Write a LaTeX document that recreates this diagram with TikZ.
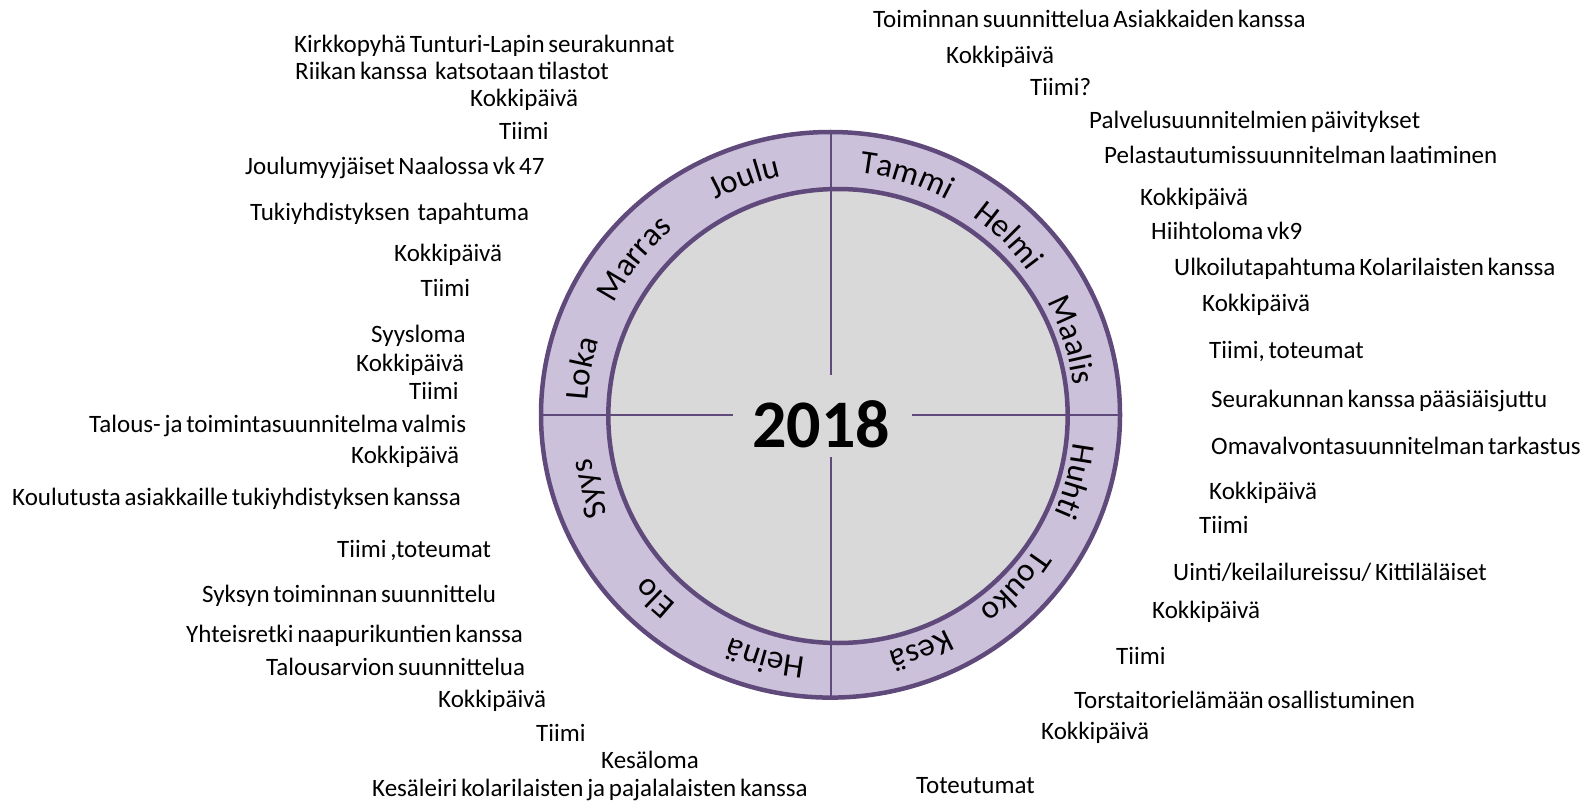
\documentclass[tikz,border=0pt]{standalone}
\usepackage{fontspec}
\setmainfont{Carlito}
\usetikzlibrary{decorations.text}
\definecolor{ringfill}{HTML}{CCC1DA}
\definecolor{ringline}{HTML}{604A7B}
\definecolor{innerfill}{HTML}{D9D9D9}
\newcommand{\mfont}{\fontsize{33}{36}\selectfont}
\newcommand{\sfnt}{\fontsize{25}{28}\selectfont\spaceskip=0.15em plus 0.05em minus 0.05em\relax}
\newcommand{\monthlabel}[2]{%
  \path[decorate, decoration={text along path, text={|\mfont|#2}, text align=center}]
    ([shift={({#1+40}:244)}]C) arc[start angle={#1+40}, end angle={#1-40}, radius=244];}
\tikzset{
  lbl/.style={anchor=base west, inner sep=0pt, font=\sfnt, text=black},
  divider/.style={draw=ringline, line width=2.5pt},
}
\begin{document}
\begin{tikzpicture}[x=1pt, y=1pt]
\useasboundingbox (0,0) rectangle (1585,-802);
\fill[white] (0,0) rectangle (1585,-802);
\coordinate (C) at (831,-415);
% ring
\filldraw[fill=ringfill, draw=ringline, line width=4.5pt] (830.5,-414.8) ellipse[x radius=289.5, y radius=282.8];
\filldraw[fill=innerfill, draw=ringline, line width=4.5pt] (838,-416) ellipse[x radius=229.7, y radius=227];
% dividers
\coordinate (vt1) at (831,-132);
\coordinate (vt2) at (831,-375);
\coordinate (vb1) at (831,-457);
\coordinate (vb2) at (831,-697.5);
\coordinate (hl1) at (541,-415);
\coordinate (hl2) at (732.7,-415);
\coordinate (hr1) at (912,-415);
\coordinate (hr2) at (1120,-415);
\draw[divider] (vt1) -- (vt2);
\draw[divider] (vb1) -- (vb2);
\draw[divider] (hl1) -- (hl2);
\draw[divider] (hr1) -- (hr2);
% year
\node[anchor=base, inner sep=0pt, font=\fontsize{68}{70}\selectfont\bfseries] (year) at (821,-447) {2018};
% months
\monthlabel{110}{Joulu}
\monthlabel{72.5}{Tammi}
\monthlabel{45.3}{Helmi}
\monthlabel{17.3}{Maalis}
\monthlabel{-15.2}{Huhti}
\monthlabel{-43}{Touko}
\monthlabel{-69}{Kesä}
\monthlabel{-105}{Heinä}
\monthlabel{-134}{Elo}
\monthlabel{-163}{Syys}
\monthlabel{169.4}{Loka}
\monthlabel{141.5}{Marras}
% right side
\node[lbl] (r1) at (873,-28) {Toiminnan suunnittelua Asiakkaiden kanssa};
\node[lbl] (r2) at (946,-63.6) {Kokkipäivä};
\node[lbl] (r3) at (1030,-96) {Tiimi?};
\node[lbl] (r4) at (1089,-129) {Palvelusuunnitelmien päivitykset};
\node[lbl] (r5) at (1104,-163.5) {Pelastautumissuunnitelman laatiminen};
\node[lbl] (r6) at (1140,-205.5) {Kokkipäivä};
\node[lbl] (r7) at (1151,-240) {Hiihtoloma vk9};
\node[lbl] (r8) at (1174,-275.5) {Ulkoilutapahtuma Kolarilaisten kanssa};
\node[lbl] (r9) at (1202,-311.5) {Kokkipäivä};
\node[lbl] (r10) at (1209,-358) {Tiimi, toteumat};
\node[lbl] (r11) at (1211,-407) {Seurakunnan kanssa pääsiäisjuttu};
\node[lbl] (r12) at (1211,-454.8) {Omavalvontasuunnitelman tarkastus};
\node[lbl] (r13) at (1209,-499) {Kokkipäivä};
\node[lbl] (r14) at (1199,-533.5) {Tiimi};
\node[lbl] (r15) at (1173,-580) {Uinti/keilailureissu/ Kittiläläiset};
\node[lbl] (r16) at (1152,-618.5) {Kokkipäivä};
\node[lbl] (r17) at (1116,-664.5) {Tiimi};
\node[lbl] (r18) at (1074,-708.5) {Torstaitorielämään osallistuminen};
\node[lbl] (r19) at (1041,-739) {Kokkipäivä};
\node[lbl] (r20) at (916,-793.5) {Toteutumat};
% left side
\node[lbl] (l1) at (294,-53) {Kirkkopyhä Tunturi-Lapin seurakunnat};
\node[lbl] (l2) at (295,-79.5) {Riikan kanssa~~katsotaan tilastot};
\node[lbl] (l3) at (470,-106.5) {Kokkipäivä};
\node[lbl] (l4) at (499,-140) {Tiimi};
\node[lbl] (l5) at (245,-174.5) {Joulumyyjäiset Naalossa vk 47};
\node[lbl] (l6) at (250,-220.5) {Tukiyhdistyksen~~tapahtuma};
\node[lbl] (l7) at (394,-261.7) {Kokkipäivä};
\node[lbl] (l8) at (420.5,-296.5) {Tiimi};
\node[lbl] (l9) at (371,-342.6) {Syysloma};
\node[lbl] (l10) at (356,-371) {Kokkipäivä};
\node[lbl] (l11) at (409,-399) {Tiimi};
\node[lbl] (l12) at (89,-432.5) {Talous- ja toimintasuunnitelma valmis};
\node[lbl] (l13) at (351,-463.5) {Kokkipäivä};
\node[lbl] (l14) at (12,-505.5) {Koulutusta asiakkaille tukiyhdistyksen kanssa};
\node[lbl] (l15) at (337,-557.5) {Tiimi ,toteumat};
\node[lbl] (l16) at (202,-602) {Syksyn toiminnan suunnittelu};
\node[lbl] (l17) at (186,-642.5) {Yhteisretki naapurikuntien kanssa};
\node[lbl] (l18) at (266,-675) {Talousarvion suunnittelua};
\node[lbl] (l19) at (438,-707.5) {Kokkipäivä};
\node[lbl] (l20) at (536,-741) {Tiimi};
\node[lbl] (l21) at (601,-768) {Kesäloma};
\node[lbl] (l22) at (372,-796) {Kesäleiri kolarilaisten ja pajalalaisten kanssa};
\end{tikzpicture}
\end{document}
